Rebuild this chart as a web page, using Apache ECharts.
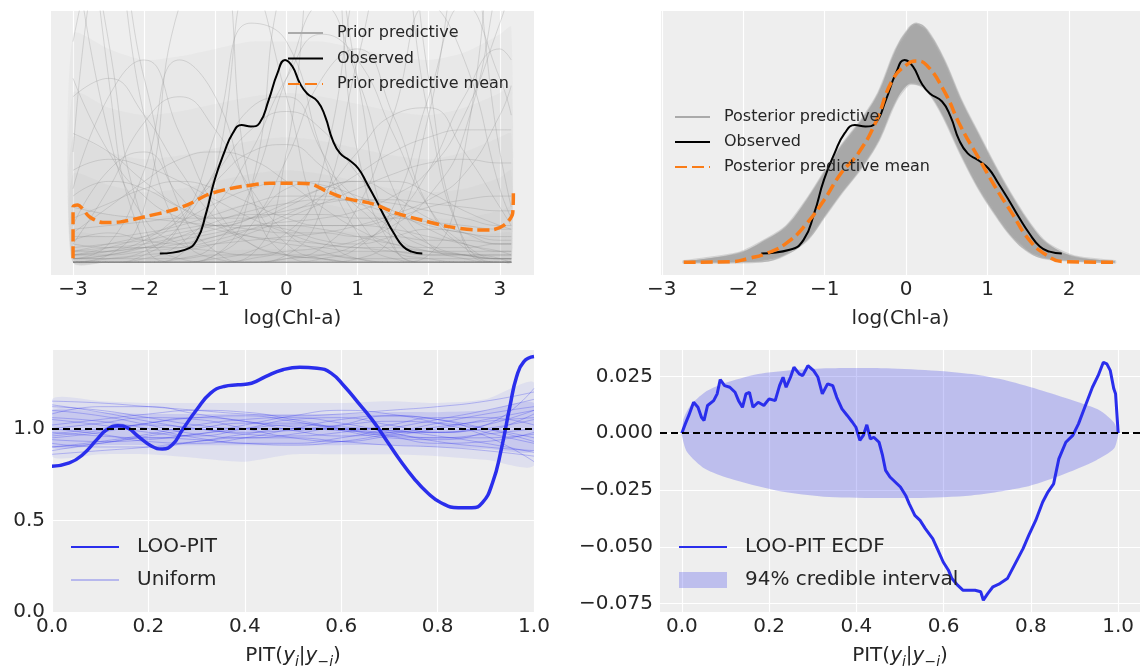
<!DOCTYPE html>
<html>
<head>
<meta charset="utf-8">
<title>PPC and LOO-PIT</title>
<script src="https://cdn.jsdelivr.net/npm/echarts@6/dist/echarts.min.js"></script>
<style>
  html, body { margin: 0; padding: 0; background: #fff; }
  #main { width: 1140px; height: 670px; }
</style>
</head>
<body>
<div id="main"></div>
<script>
// ---- tick labels ----
let chlTicksPrior = [-3, -2, -1, 0, 1, 2, 3];
let chlTicksPost = [-3, -2, -1, 0, 1, 2];
let pitTicks = [0, 0.2, 0.4, 0.6, 0.8, 1.0];
let pitDensityTicks = [0, 0.5, 1.0];
let ecdfTicks = [-0.075, -0.05, -0.025, 0, 0.025];

// ---- observed density of log(Chl-a) (same curve in both top panels) ----
let observed = [[-1.78,0.024],[-1.43,0.034],[-1.26,0.061],[-1.13,0.133],[-1.01,0.224],[-0.88,0.296],
	[-0.755,0.351],[-0.63,0.373],[-0.5,0.369],[-0.38,0.378],[-0.25,0.441],[-0.126,0.514],[-0.02,0.55],
	[0.084,0.532],[0.19,0.486],[0.29,0.459],[0.44,0.437],[0.545,0.396],[0.65,0.332],[0.755,0.296],
	[0.88,0.278],[1.01,0.255],[1.13,0.215],[1.26,0.169],[1.38,0.124],[1.51,0.079],[1.64,0.043],
	[1.76,0.029],[1.91,0.024]];

// ---- prior predictive ----
let priorMean = [[-3.0,0.011],[-3.0,0.151],[-2.94,0.156],[-2.77,0.124],[-2.58,0.108],[-2.33,0.11],
	[-1.99,0.124],[-1.6,0.142],[-1.36,0.159],[-1.12,0.183],[-0.875,0.197],[-0.63,0.206],[-0.24,0.215],
	[0.1,0.215],[0.34,0.213],[0.58,0.192],[0.83,0.174],[1.21,0.159],[1.555,0.133],[1.895,0.115],
	[2.28,0.097],[2.67,0.088],[2.87,0.088],[3.06,0.101],[3.18,0.133],[3.19,0.188]];
let priorX = [-3, -2.5, -2, -1.5, -1, -0.5, 0, 0.5, 1, 1.5, 2, 2.5, 3, 3.16];
let priorSamples = [
	[0.09,0.1,0.11,0.12,0.12,0.13,0.13,0.13,0.12,0.12,0.11,0.1,0.09,0.09],
	[0.02,0.04,0.07,0.11,0.16,0.2,0.22,0.21,0.18,0.14,0.09,0.05,0.03,0.02],
	[0.3,0.9,0.4,0.08,0.01,0,0,0,0,0,0,0,0,0],
	[0,0,0,0,0.02,0.2,0.8,0.9,0.3,0.04,0,0,0,0],
	[0.9,0.35,0.12,0.05,0.03,0.02,0.02,0.02,0.01,0.01,0.01,0.01,0.01,0.01],
	[0.01,0.01,0.01,0.01,0.02,0.02,0.03,0.04,0.06,0.1,0.18,0.35,0.8,1.0],
	[0.05,0.2,0.38,0.45,0.36,0.2,0.08,0.03,0.01,0,0,0,0,0],
	[0,0,0,0,0.01,0.03,0.08,0.18,0.3,0.4,0.42,0.3,0.15,0.1],
	[0.1,0.25,0.3,0.18,0.1,0.12,0.2,0.22,0.15,0.07,0.03,0.02,0.01,0.01],
	[0.15,0.13,0.12,0.11,0.1,0.09,0.08,0.08,0.07,0.07,0.06,0.06,0.05,0.05],
	[0.04,0.05,0.06,0.08,0.1,0.12,0.14,0.16,0.17,0.17,0.16,0.15,0.14,0.14],
	[0,0,0,0.02,0.25,0.75,0.45,0.1,0.01,0,0,0,0,0],
	[0,0,0,0,0,0,0,0,0.01,0.08,0.4,0.85,0.3,0.15],
	[0.01,0.02,0.05,0.12,0.24,0.36,0.41,0.36,0.24,0.12,0.05,0.02,0.01,0.01],
	[0.2,0.45,0.55,0.35,0.15,0.05,0.02,0.01,0,0,0,0,0,0],
	[0,0,0,0,0.02,0.1,0.28,0.5,0.58,0.4,0.15,0.04,0.01,0],
	[0.03,0.05,0.07,0.09,0.1,0.1,0.1,0.1,0.1,0.09,0.07,0.05,0.03,0.03],
	[0.5,0.3,0.18,0.12,0.09,0.07,0.06,0.05,0.04,0.04,0.03,0.03,0.03,0.03],
	[0.03,0.03,0.04,0.04,0.05,0.06,0.07,0.08,0.1,0.13,0.17,0.24,0.4,0.48],
	[1.2,0.6,0.1,0.01,0,0,0,0,0,0,0,0,0,0],
	[0,0,0,0,0,0,0,0,0,0,0.02,0.3,1.1,1.2],
	[0,0.01,0.03,0.1,0.25,0.42,0.45,0.3,0.12,0.03,0.01,0,0,0],
	[0,0,0,0,0,0,0.01,0.02,0.05,0.12,0.25,0.45,0.58,0.55],
	[0.06,0.08,0.06,0.05,0.07,0.1,0.09,0.06,0.05,0.07,0.09,0.08,0.06,0.06],
	[0,0,0,0,0,0,0.02,0.15,0.55,0.9,0.4,0.06,0,0],
	[0,0.02,0.15,0.7,0.8,0.2,0.02,0,0,0,0,0,0,0],
	[0.25,0.28,0.26,0.22,0.17,0.12,0.08,0.05,0.04,0.03,0.02,0.02,0.02,0.02],
	[0.01,0.01,0.02,0.03,0.05,0.08,0.12,0.16,0.2,0.24,0.27,0.28,0.27,0.27],
	[0.02,0.03,0.06,0.13,0.22,0.3,0.32,0.26,0.17,0.09,0.04,0.02,0.01,0.01],
	[0,0,0,0,0,0.02,0.3,1.0,0.5,0.05,0,0,0,0],
	[0.35,0.3,0.22,0.15,0.1,0.07,0.05,0.04,0.03,0.03,0.02,0.02,0.02,0.02],
	[0.02,0.02,0.03,0.04,0.06,0.09,0.13,0.18,0.24,0.3,0.34,0.36,0.36,0.36],
	[0,0,0.01,0.05,0.15,0.3,0.5,0.62,0.55,0.35,0.15,0.05,0.01,0.01],
	[0.08,0.15,0.22,0.28,0.3,0.28,0.22,0.15,0.09,0.05,0.03,0.02,0.01,0.01],
	[0,0,0,0,0,0.01,0.05,0.25,0.8,1.2,0.5,0.05,0,0],
	[0.6,0.9,0.5,0.15,0.03,0,0,0,0,0,0,0,0,0],
	[0.07,0.07,0.08,0.1,0.13,0.16,0.18,0.18,0.16,0.13,0.1,0.08,0.07,0.07],
	[0.12,0.16,0.2,0.22,0.2,0.16,0.12,0.1,0.1,0.12,0.15,0.17,0.18,0.18],
	[0,0,0.02,0.1,0.35,0.65,0.6,0.3,0.08,0.01,0,0,0,0],
	[0.01,0.02,0.04,0.07,0.11,0.14,0.16,0.17,0.17,0.16,0.14,0.12,0.1,0.1],
	[0.02,0.03,0.04,0.06,0.08,0.1,0.11,0.12,0.14,0.18,0.25,0.4,0.65,0.75],
	[0.45,0.5,0.4,0.25,0.12,0.05,0.02,0.01,0,0,0,0,0,0],
	[0,0,0,0,0,0,0,0.01,0.04,0.15,0.45,0.7,0.5,0.4],
	[0.05,0.04,0.04,0.05,0.07,0.09,0.1,0.09,0.07,0.05,0.04,0.04,0.05,0.05],
	[0,0,0,0.01,0.05,0.2,0.5,0.7,0.5,0.2,0.05,0.01,0,0],
	[0.18,0.22,0.2,0.15,0.12,0.12,0.15,0.2,0.22,0.18,0.12,0.08,0.05,0.05],
	[0.01,0.05,0.25,0.55,0.45,0.18,0.05,0.01,0,0,0,0,0,0],
	[0.03,0.04,0.05,0.07,0.09,0.12,0.16,0.2,0.22,0.22,0.19,0.14,0.1,0.09],
	[0,0,0,0,0,0,0.01,0.04,0.15,0.4,0.7,0.55,0.2,0.12],
	[1.5,0.5,0.05,0,0,0,0,0,0,0,0,0,0,0]
];
// where the hundreds of prior lines pile up (grey haze, densest at the bottom)
let priorHazeTops = [
	[0.62,0.58,0.55,0.56,0.58,0.6,0.6,0.6,0.58,0.56,0.55,0.57,0.62,0.64],
	[0.46,0.42,0.4,0.41,0.43,0.45,0.46,0.45,0.43,0.41,0.4,0.42,0.46,0.48],
	[0.34,0.3,0.28,0.29,0.31,0.33,0.34,0.33,0.31,0.29,0.28,0.3,0.34,0.35],
	[0.24,0.21,0.19,0.2,0.22,0.24,0.25,0.24,0.22,0.2,0.19,0.2,0.23,0.25],
	[0.15,0.13,0.12,0.13,0.14,0.16,0.17,0.16,0.14,0.13,0.12,0.12,0.14,0.15],
	[0.08,0.07,0.07,0.07,0.08,0.09,0.1,0.09,0.08,0.07,0.07,0.07,0.08,0.08],
	[0.03,0.03,0.03,0.03,0.03,0.035,0.035,0.035,0.03,0.03,0.03,0.03,0.03,0.03]
];

// ---- posterior predictive ----
let postMean = [[-2.73,0],[-2.14,0.002],[-1.93,0.011],[-1.72,0.024],[-1.47,0.052],[-1.22,0.106],
	[-1.01,0.169],[-0.8,0.242],[-0.59,0.296],[-0.38,0.378],[-0.17,0.495],[0.0,0.536],[0.126,0.547],
	[0.25,0.536],[0.46,0.468],[0.67,0.369],[0.88,0.287],[1.09,0.206],[1.3,0.133],[1.51,0.061],
	[1.72,0.02],[1.93,0.002],[2.6,0]];
let postUpper = [[-2.73,0.002],[-2.06,0.024],[-1.72,0.061],[-1.47,0.097],[-1.22,0.169],[-1.01,0.242],
	[-0.8,0.314],[-0.545,0.387],[-0.34,0.459],[-0.126,0.577],[0.04,0.636],[0.126,0.648],[0.25,0.631],
	[0.46,0.55],[0.67,0.441],[0.88,0.35],[1.09,0.26],[1.3,0.178],[1.51,0.106],[1.72,0.052],
	[2.06,0.015],[2.56,0.002]];
let postLower = [[-2.73,0],[-1.85,0.002],[-1.55,0.015],[-1.22,0.061],[-1.01,0.124],[-0.8,0.188],
	[-0.545,0.26],[-0.34,0.332],[-0.126,0.441],[0.04,0.486],[0.17,0.482],[0.29,0.459],[0.46,0.396],
	[0.67,0.296],[0.88,0.206],[1.09,0.133],[1.3,0.07],[1.51,0.029],[1.72,0.011],[2.56,0]];

// ---- LOO-PIT KDE ----
let looPit = [[0,0.795],[0.036,0.813],[0.064,0.859],[0.093,0.94],[0.114,0.995],[0.136,1.016],
	[0.157,1.004],[0.179,0.958],[0.207,0.904],[0.229,0.889],[0.25,0.913],[0.271,0.995],[0.3,1.103],
	[0.329,1.194],[0.357,1.23],[0.386,1.239],[0.414,1.248],[0.443,1.284],[0.479,1.321],[0.514,1.335],
	[0.55,1.33],[0.579,1.303],[0.607,1.23],[0.636,1.139],[0.664,1.049],[0.693,0.94],[0.721,0.832],
	[0.75,0.732],[0.779,0.65],[0.807,0.596],[0.843,0.569],[0.871,0.569],[0.893,0.596],[0.914,0.705],
	[0.932,0.886],[0.95,1.121],[0.964,1.284],[0.979,1.366],[1.0,1.393]];
let uniformX = [0, 0.1, 0.2, 0.3, 0.4, 0.5, 0.6, 0.7, 0.8, 0.9, 1.0];
let uniformSamples = [
	[1.15,1.14,1.12,1.1,1.08,1.07,1.08,1.1,1.12,1.15,1.2],
	[0.86,0.88,0.9,0.93,0.95,0.95,0.93,0.91,0.9,0.88,0.85],
	[1.05,1.02,0.98,0.96,1.0,1.05,1.06,1.02,0.98,1.0,1.05],
	[0.95,0.98,1.03,1.06,1.04,0.99,0.96,0.98,1.03,1.08,1.12],
	[1.1,1.07,1.02,0.97,0.95,0.97,1.02,1.07,1.05,0.98,0.92],
	[0.9,0.93,0.97,1.02,1.05,1.06,1.03,0.98,0.93,0.9,0.88],
	[1.0,1.03,1.06,1.05,1.0,0.95,0.93,0.96,1.0,1.05,1.1],
	[1.12,1.1,1.06,1.02,1.0,1.0,1.02,1.04,1.03,1.0,0.95],
	[0.92,0.9,0.9,0.93,0.97,1.0,1.0,0.97,0.95,0.95,0.97],
	[0.98,0.96,0.95,0.97,1.02,1.07,1.1,1.08,1.03,0.96,0.82],
	[1.08,1.12,1.12,1.08,1.04,1.01,0.99,0.98,0.98,1.02,1.22],
	[0.88,0.92,0.95,0.94,0.92,0.91,0.93,0.97,1.01,1.04,1.06],
	[1.02,1.05,1.08,1.1,1.09,1.05,1.0,0.96,0.95,0.97,1.0],
	[0.94,0.93,0.94,0.97,1.0,1.02,1.01,0.99,0.98,1.02,1.1],
	[1.06,1.04,1.0,0.95,0.92,0.92,0.95,1.0,1.05,1.1,1.16],
	[0.97,1.0,1.02,1.0,0.97,0.96,0.98,1.02,1.06,1.06,1.02],
	[1.13,1.09,1.04,1.0,0.98,0.99,1.0,0.99,0.96,0.92,0.87],
	[0.9,0.92,0.96,1.0,1.03,1.03,1.0,0.96,0.92,0.93,0.98],
	[1.0,0.97,0.93,0.92,0.95,1.0,1.05,1.07,1.05,1.0,0.93],
	[0.96,0.99,1.03,1.06,1.07,1.04,0.99,0.95,0.94,0.98,1.08]
];
let uniformOuterHi = [1.16,1.15,1.14,1.14,1.14,1.14,1.14,1.15,1.14,1.16,1.25];
let uniformOuterLo = [0.85,0.86,0.86,0.84,0.82,0.86,0.86,0.86,0.85,0.83,0.8];
let uniformInnerHi = [1.1,1.09,1.08,1.08,1.08,1.08,1.08,1.09,1.09,1.1,1.14];
let uniformInnerLo = [0.9,0.91,0.91,0.91,0.91,0.91,0.91,0.91,0.9,0.89,0.88];
let uniformRef = 1;

// ---- LOO-PIT ECDF difference ----
let ecdfDiff = [[0,0],[0.008,0.0041],[0.016,0.0078],[0.027,0.0136],[0.037,0.0114],[0.045,0.007],
	[0.051,0.0056],[0.059,0.0122],[0.073,0.0143],[0.081,0.0173],[0.088,0.0236],[0.098,0.0209],
	[0.11,0.0202],[0.122,0.018],[0.13,0.0143],[0.139,0.0114],[0.147,0.0173],[0.155,0.018],
	[0.163,0.0114],[0.175,0.0136],[0.188,0.0122],[0.2,0.0151],[0.214,0.0143],[0.224,0.0209],
	[0.232,0.0246],[0.239,0.0202],[0.249,0.0246],[0.257,0.029],[0.269,0.0261],[0.277,0.0253],
	[0.289,0.0297],[0.302,0.0275],[0.312,0.0246],[0.322,0.0173],[0.334,0.0217],[0.346,0.0209],
	[0.355,0.0158],[0.367,0.0107],[0.379,0.0078],[0.391,0.0048],[0.399,0.0026],[0.408,-0.0032],
	[0.416,-0.001],[0.424,0.0037],[0.432,-0.0025],[0.44,-0.0018],[0.452,-0.004],[0.46,-0.0098],
	[0.467,-0.0164],[0.477,-0.0193],[0.489,-0.0215],[0.501,-0.0237],[0.513,-0.0274],[0.521,-0.031],
	[0.534,-0.0362],[0.546,-0.0384],[0.558,-0.042],[0.575,-0.0464],[0.587,-0.0515],[0.599,-0.0567],
	[0.611,-0.0603],[0.619,-0.064],[0.632,-0.0669],[0.644,-0.0691],[0.656,-0.0691],[0.672,-0.0691],
	[0.685,-0.0698],[0.691,-0.0735],[0.701,-0.0706],[0.713,-0.0676],[0.729,-0.0662],[0.746,-0.064],
	[0.758,-0.0596],[0.77,-0.0552],[0.782,-0.0508],[0.795,-0.045],[0.811,-0.0384],[0.827,-0.0303],
	[0.839,-0.0259],[0.852,-0.0223],[0.864,-0.0113],[0.88,-0.004],[0.896,-0.001],[0.909,0.0041],
	[0.925,0.0122],[0.941,0.0202],[0.954,0.0253],[0.966,0.0312],[0.974,0.0305],[0.982,0.0275],
	[0.99,0.0195],[0.994,0.0173],[1.0,0]];
let ciUpper = [[0,0],[0.004,0.0063],[0.02,0.0122],[0.053,0.018],[0.094,0.0217],[0.175,0.026],
	[0.257,0.0278],[0.338,0.0286],[0.469,0.0286],[0.583,0.0275],[0.664,0.026],[0.746,0.0231],
	[0.827,0.0187],[0.909,0.0136],[0.958,0.01],[0.99,0.0048],[1,0]];
let ciLower = [[0,-0.001],[0.012,-0.0083],[0.053,-0.0157],[0.11,-0.02],[0.216,-0.0252],
	[0.338,-0.0281],[0.534,-0.0285],[0.664,-0.0274],[0.786,-0.0237],[0.868,-0.0186],
	[0.949,-0.012],[0.99,-0.0069],[1,-0.001]];
let ecdfRef = 0;

// ---- style ----
let textColor = '#262626';
let fontFamily = 'DejaVu Sans';
let panelBg = '#eeeeee';
let blue = '#2a2eec';
let orange = '#fa7c17';
let ciFill = 'rgba(42,46,236,0.25)';

function minus(s) {
	return String(s).replace('-', '\u2212');
}

function xAxisOf(grid, min, max, ticks, digits, name, rich) {
	return {
		type: 'value', gridIndex: grid, min: min, max: max,
		axisLine: { show: false },
		axisTick: { show: false, customValues: ticks },
		axisLabel: {
			customValues: ticks, margin: 5, color: textColor, fontSize: 20, fontFamily: fontFamily,
			formatter: function (v) { return minus(v.toFixed(digits)); }
		},
		splitLine: { show: true, lineStyle: { color: '#ffffff', width: 1.2 } },
		name: name, nameLocation: 'middle', nameGap: 31,
		nameTextStyle: { color: textColor, fontSize: 20, fontFamily: fontFamily, lineHeight: 26, rich: rich }
	};
}

function yAxisOf(grid, min, max, ticks, digits) {
	if (!ticks) {
		return { type: 'value', gridIndex: grid, min: min, max: max, show: false, splitLine: { show: false } };
	}
	return {
		type: 'value', gridIndex: grid, min: min, max: max,
		axisLine: { show: false },
		axisTick: { show: false, customValues: ticks },
		axisLabel: {
			customValues: ticks, margin: 7, color: textColor, fontSize: 20, fontFamily: fontFamily,
			formatter: function (v) { return minus(v.toFixed(digits)); }
		},
		splitLine: { show: true, lineStyle: { color: '#ffffff', width: 1.2 } }
	};
}

function line(name, idx, data, color, width, extra) {
	let s = {
		type: 'line', name: name, xAxisIndex: idx, yAxisIndex: idx, data: data,
		symbol: 'none', showSymbol: false, silent: true, clip: true, smooth: true,
		itemStyle: { color: color },
		lineStyle: { color: color, width: width }
	};
	for (let k in (extra || {})) s[k] = extra[k];
	return s;
}

// filled polygon between an upper and a lower curve, drawn through the axis scales
function band(idx, upper, lower, fill, stroke, name) {
	return {
		type: 'custom', name: name, xAxisIndex: idx, yAxisIndex: idx, silent: true, clip: true,
		itemStyle: { color: fill },
		data: [upper[0]],
		renderItem: function (params, api) {
			let pts = [];
			upper.forEach(function (p) { pts.push(api.coord(p)); });
			for (let i = lower.length - 1; i >= 0; i--) pts.push(api.coord(lower[i]));
			return {
				type: 'polygon',
				shape: { points: pts, smooth: 0.25 },
				style: { fill: fill, stroke: stroke || null, lineWidth: stroke ? 3 : 0 }
			};
		}
	};
}

function pairs(xs, ys) {
	return xs.map(function (x, i) { return [x, ys[i]]; });
}

let series = [];

// top-left: prior predictive
let priorFloor = pairs(priorX, priorX.map(function () { return 0; }));
priorHazeTops.forEach(function (tops) {
	series.push(band(0, pairs(priorX, tops), priorFloor, 'rgba(140,140,140,0.055)'));
});
priorSamples.forEach(function (ys) {
	series.push(line('Prior predictive', 0, pairs(priorX, ys), 'rgba(140,140,140,0.28)', 1));
});
series.push(line('Observed', 0, observed, '#000000', 2));
series.push(line('Prior predictive mean', 0, priorMean, orange, 3.5, { smooth: 0.3 }));
series[series.length - 1].lineStyle.type = [12, 5];

// top-right: posterior predictive
series.push(line('Posterior predictive', 1, postUpper, 'rgba(165,165,165,0.6)', 1.5));
series.push(line('Posterior predictive', 1, postLower, 'rgba(165,165,165,0.6)', 1.5));
series.push(band(1, postUpper, postLower, '#a8a8a8', 'rgba(175,175,175,0.45)'));
series.push(line('Observed', 1, observed, '#000000', 2));
series.push(line('Posterior predictive mean', 1, postMean, orange, 3.5));
series[series.length - 1].lineStyle.type = [12, 5];

// bottom-left: LOO-PIT KDE against uniform draws
series.push(band(2, pairs(uniformX, uniformOuterHi), pairs(uniformX, uniformOuterLo), 'rgba(42,46,236,0.08)'));
series.push(band(2, pairs(uniformX, uniformInnerHi), pairs(uniformX, uniformInnerLo), 'rgba(42,46,236,0.12)'));
uniformSamples.forEach(function (ys) {
	series.push(line('Uniform', 2, pairs(uniformX, ys), 'rgba(42,46,236,0.28)', 1));
});
series.push(line('LOO-PIT', 2, looPit, blue, 3.5, {
	markLine: {
		silent: true, symbol: 'none', label: { show: false },
		lineStyle: { color: '#000000', width: 2.2, type: [7, 4] },
		data: [{ yAxis: uniformRef }]
	}
}));

// bottom-right: ECDF difference with credible band
series.push(band(3, ciUpper, ciLower, ciFill, null, '94% credible interval'));
series.push(line('LOO-PIT ECDF', 3, ecdfDiff, blue, 3, {
	smooth: false,
	markLine: {
		silent: true, symbol: 'none', label: { show: false },
		lineStyle: { color: '#000000', width: 2.2, type: [7, 4] },
		data: [{ yAxis: ecdfRef }]
	}
}));

let pitRich = {
	i: { fontStyle: 'italic', fontSize: 20, fontFamily: fontFamily, color: textColor },
	s: { fontStyle: 'italic', fontSize: 14, fontFamily: fontFamily, color: textColor, verticalAlign: 'bottom' }
};
let pitName = 'PIT({i|y}{s|i}|{i|y}{s|\u2212i})';

function legendOf(left, top, size, pad, iconW, gap, data) {
	return {
		left: left, top: top, orient: 'vertical', selectedMode: false,
		itemWidth: iconW, itemHeight: 16, itemGap: gap,
		itemStyle: { opacity: 0 },  // no marker dot on the line icons
		textStyle: { color: textColor, fontSize: size, fontFamily: fontFamily, lineHeight: size + 2, padding: [0, 0, 0, pad] },
		data: data
	};
}

let option = {
	animation: false,
	backgroundColor: '#ffffff',
	grid: [
		{ left: 51, top: 11, width: 483, height: 264, show: true, backgroundColor: panelBg, borderWidth: 0 },
		{ left: 661, top: 11, width: 482, height: 264, show: true, backgroundColor: panelBg, borderWidth: 0 },
		{ left: 52, top: 350, width: 482, height: 263, show: true, backgroundColor: panelBg, borderWidth: 0 },
		{ left: 660, top: 350, width: 482, height: 263, show: true, backgroundColor: panelBg, borderWidth: 0 }
	],
	xAxis: [
		xAxisOf(0, -3.31, 3.48, chlTicksPrior, 0, 'log(Chl-a)'),
		xAxisOf(1, -3.01, 2.87, chlTicksPost, 0, 'log(Chl-a)'),
		xAxisOf(2, 0, 1, pitTicks, 1, pitName, pitRich),
		xAxisOf(3, -0.05, 1.05, pitTicks, 1, pitName, pitRich)
	],
	yAxis: [
		yAxisOf(0, -0.0344, 0.683),
		yAxisOf(1, -0.0344, 0.683),
		yAxisOf(2, 0, 1.429, pitDensityTicks, 1),
		yAxisOf(3, -0.0787, 0.0366, ecdfTicks, 3)
	],
	legend: [
		legendOf(282, 19, 16, 9, 35, 7.5, [
			{ name: 'Prior predictive', lineStyle: { color: '#aaaaaa', width: 2, opacity: 1 } },
			'Observed', 'Prior predictive mean'
		]),
		legendOf(669, 103, 16, 9, 35, 7, [
			{ name: 'Posterior predictive', lineStyle: { color: '#aaaaaa', width: 2, opacity: 1 } },
			'Observed', 'Posterior predictive mean'
		]),
		legendOf(65, 531, 20, 13, 48, 11, ['LOO-PIT', 'Uniform']),
		legendOf(673, 531, 20, 13, 48, 11, [
			'LOO-PIT ECDF',
			{ name: '94% credible interval', icon: 'rect', itemStyle: { opacity: 1, color: ciFill } }
		])
	],
	series: series
};

let chart = echarts.init(document.getElementById('main'));
chart.setOption(option);
</script>
</body>
</html>
